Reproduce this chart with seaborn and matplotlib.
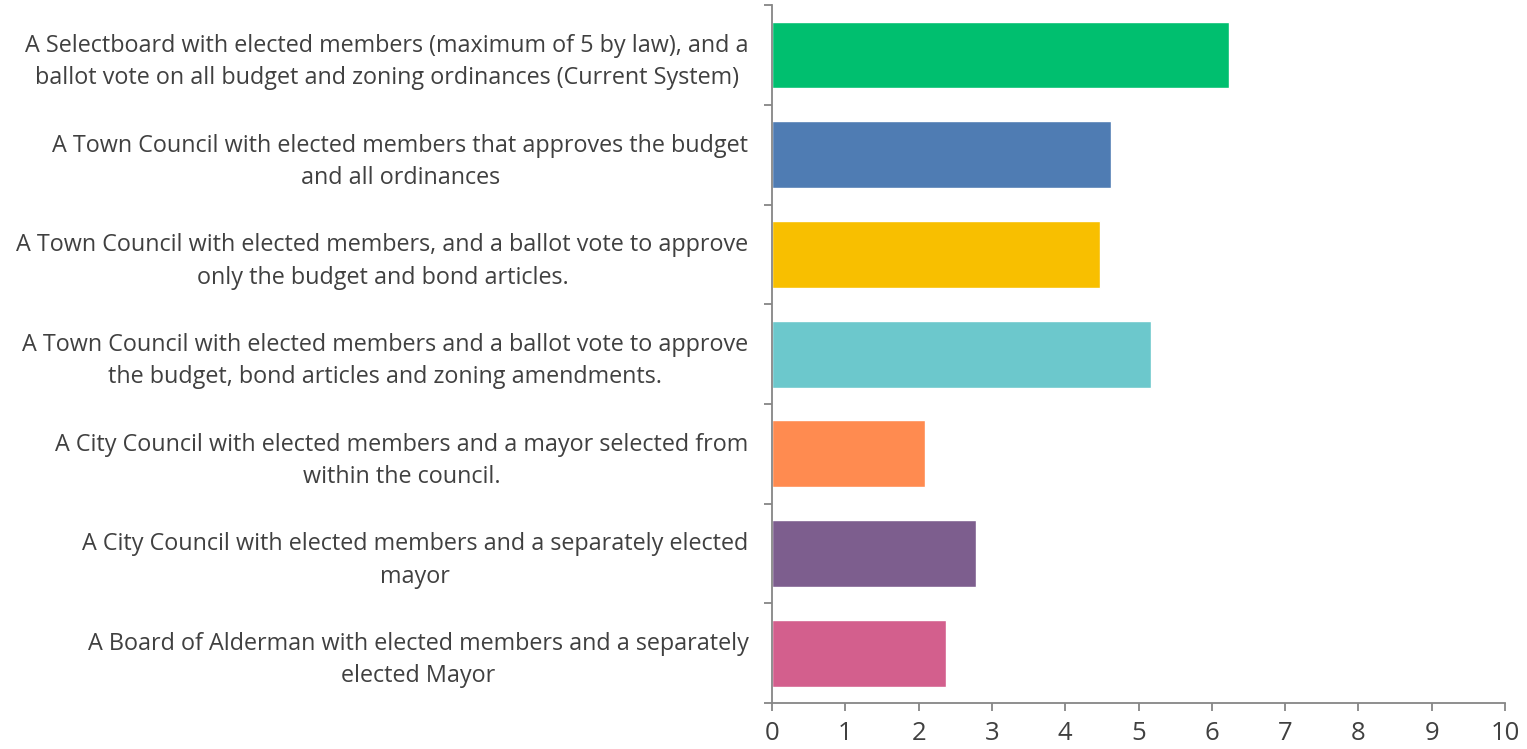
import pandas as pd
import seaborn as sns
from matplotlib import pyplot as plt

labels = [
    "A Selectboard with elected members (maximum of 5 by law), and a\nballot vote on all budget and zoning ordinances (Current System)",
    "A Town Council with elected members that approves the budget\nand all ordinances",
    "A Town Council with elected members, and a ballot vote to approve\nonly the budget and bond articles.",
    "A Town Council with elected members and a ballot vote to approve\nthe budget, bond articles and zoning amendments.",
    "A City Council with elected members and a mayor selected from\nwithin the council.",
    "A City Council with elected members and a separately elected\nmayor",
    "A Board of Alderman with elected members and a separately\nelected Mayor",
]
scores = [6.24, 4.63, 4.47, 5.17, 2.09, 2.78, 2.38]
colors = ["#00BF6F", "#4F7CB3", "#F8BF00", "#6CC8CC", "#FF8B50", "#7D5E8E", "#D35F8D"]

sns.set_style("white")
plt.rcParams['font.family'] = ['Open Sans', 'DejaVu Sans']

df = pd.DataFrame({'label': labels, 'score': scores})

fig = plt.figure(figsize=(15.27, 7.49), dpi=100)
ax = fig.add_axes([0.5056, 0.0614, 0.48, 0.9316])
sns.barplot(data=df, x='score', y='label', hue='label', palette=colors,
            orient='h', width=0.67, legend=False, saturation=1, ax=ax)

ax.set_xlim(0, 10)
ax.set_ylim(6.5, -0.5)
ax.set_xticks(range(11))
ax.set_yticks(range(len(labels)))
ax.set_yticklabels(labels, multialignment='center', linespacing=1.45)
ax.set_yticks([i - 0.5 for i in range(len(labels) + 1)], minor=True)
ax.set_xlabel("")
ax.set_ylabel("")

axis_gray = "#868686"
for side in ['top', 'right']:
    ax.spines[side].set_visible(False)
for side in ['left', 'bottom']:
    ax.spines[side].set_color(axis_gray)
    ax.spines[side].set_linewidth(1.3)

ax.tick_params(axis='y', which='major', left=False, length=0, pad=17, labelsize=16.8, labelcolor="#404040")
ax.tick_params(axis='y', which='minor', left=True, length=6, width=1.3, color=axis_gray, direction='out')
ax.tick_params(axis='x', bottom=True, length=6, width=1.3, color=axis_gray, direction='out',
               labelsize=18.5, labelcolor="#404040", pad=7)

plt.savefig('out.png', dpi=100)
